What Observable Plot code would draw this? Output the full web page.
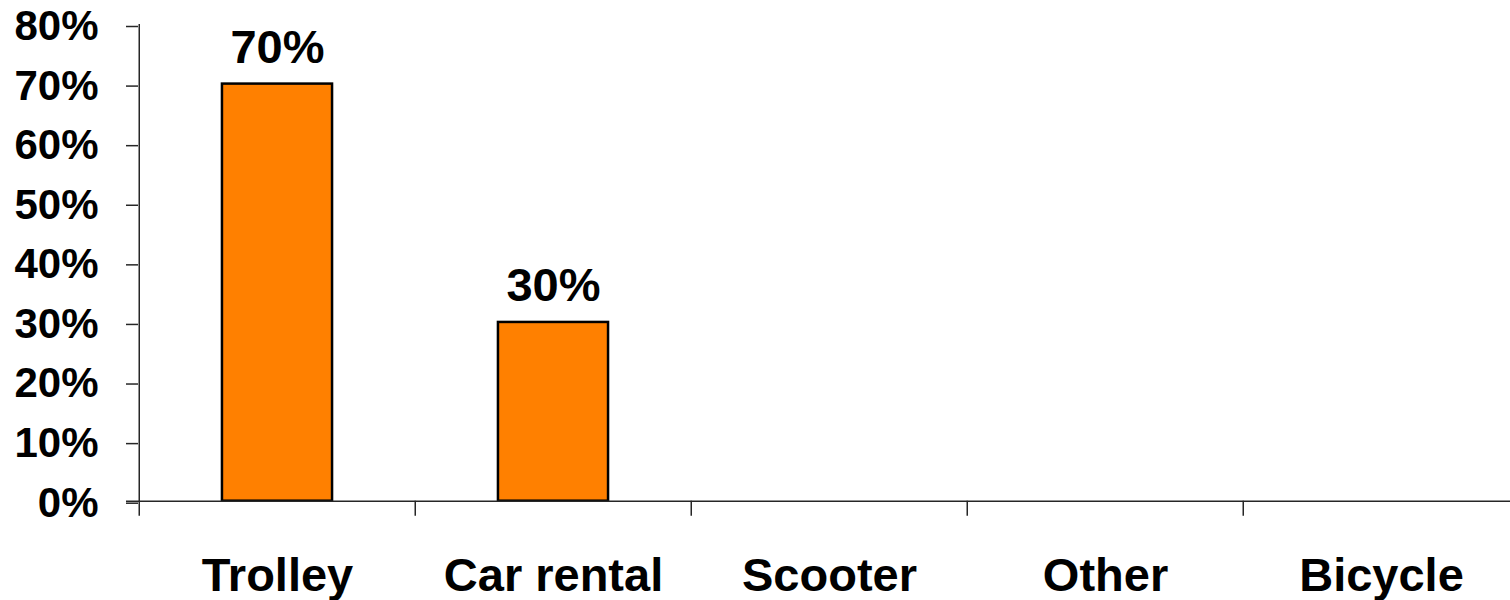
<!DOCTYPE html>
<html>
<head>
<meta charset="utf-8">
<script src="https://cdn.jsdelivr.net/npm/d3@7"></script>
<script src="https://cdn.jsdelivr.net/npm/@observablehq/plot@0.6"></script>
<style>
  html, body { margin: 0; padding: 0; background: #fff; }
  #chart { width: 1510px; height: 600px; overflow: hidden; }
  svg { overflow: hidden; }
</style>
</head>
<body>
<div id="chart"></div>
<script>
const categories = ["Trolley", "Car rental", "Scooter", "Other", "Bicycle"];
const values = [70, 30, 0, 0, 0];
const yTicks = [0, 10, 20, 30, 40, 50, 60, 70, 80];

const data = categories.map((c, i) => ({category: c, value: values[i]}));
const shown = data.filter(d => d.value > 0);

const W = 1510, H = 600;
const xRange = [138, 1520.5];
const step = (xRange[1] - xRange[0]) / categories.length;
const font = "'Liberation Sans', Arial, Helvetica, sans-serif";
const axisColor = "#262626";

const chart = Plot.plot({
  width: W,
  height: H,
  marginLeft: 138,
  marginRight: 0,
  marginTop: 24,
  marginBottom: 99.3,
  style: {fontFamily: font, background: "#fff", color: "#000"},
  x: {domain: categories, range: xRange, padding: 0},
  y: {domain: [0, 80]},
  marks: [
    Plot.barY(shown, {
      x: "category", y: "value",
      fill: "#FF8000", stroke: "#000", strokeWidth: 2.5,
      insetLeft: step * 0.3, insetRight: step * 0.3
    }),
    Plot.ruleY([0], {stroke: axisColor, strokeWidth: 1.5, insetLeft: -12}),
    Plot.ruleX([categories[0]], {x: d => d, y1: 80, y2: 0, dx: -step / 2, insetBottom: -15, stroke: axisColor, strokeWidth: 1.5}),
    Plot.ruleX(categories.slice(1), {x: d => d, y1: 0, y2: 0, dx: -step / 2, insetBottom: -15, stroke: axisColor, strokeWidth: 1.5}),
    Plot.axisY({
      ticks: yTicks, tickFormat: d => d + "%",
      tickSize: 12, tickPadding: 28, stroke: axisColor, strokeWidth: 1.5,
      fontSize: 42, fontWeight: "bold", fill: "#000", dy: 2, label: null
    }),
    Plot.axisX({
      tickSize: 0, tickPadding: 56, fontSize: 47, fontWeight: "bold", fill: "#000", label: null
    }),
    Plot.text(shown, {
      x: "category", y: "value", text: d => d.value + "%",
      dy: -36, fontSize: 47, fontWeight: "bold", fill: "#000"
    })
  ]
});
document.getElementById("chart").appendChild(chart);
</script>
</body>
</html>
